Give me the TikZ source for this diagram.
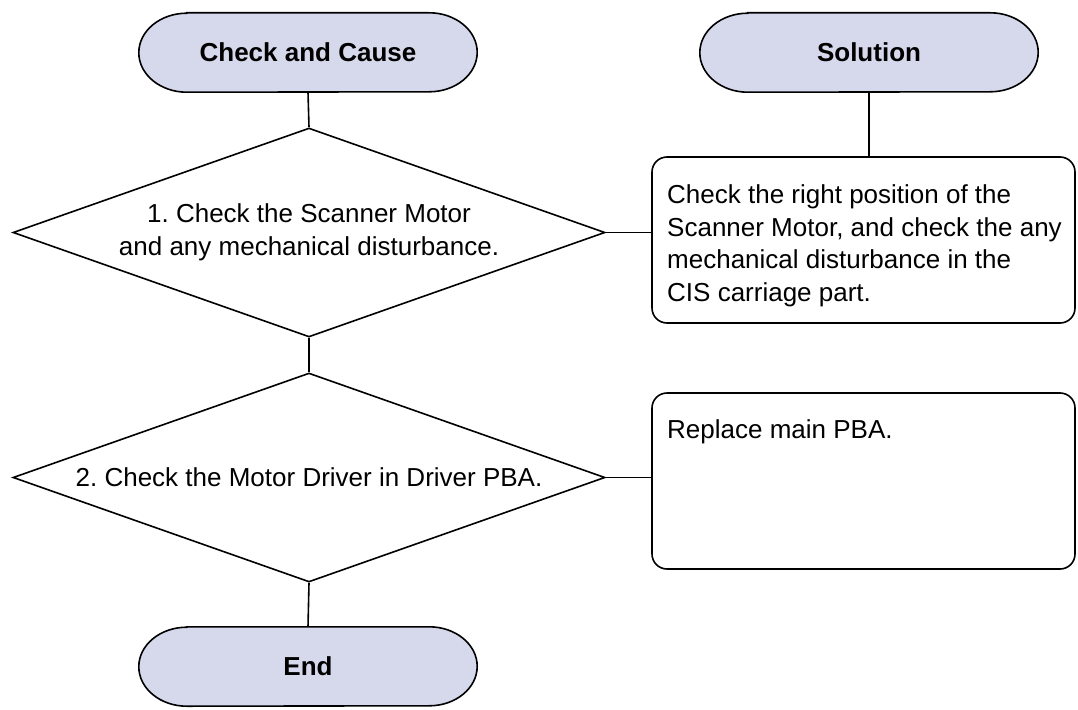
\documentclass[tikz,border=0pt]{standalone}
\usepackage{fontspec}
\setmainfont{Liberation Sans}
\usetikzlibrary{shapes.geometric,backgrounds}
\definecolor{termfill}{RGB}{214,216,236}
\tikzset{
  lin/.style={line width=1.6pt, black},
  txt/.style={font=\fontsize{26}{32.5}\selectfont},
  term/.style={minimum width=338pt, minimum height=79pt, inner sep=0pt, font=\fontsize{26}{32.5}\selectfont\bfseries},
  termshape/.style={lin, fill=termfill},
  dec/.style={draw, lin, shape=diamond, aspect=2.83, minimum width=592pt, minimum height=209pt, inner sep=0pt, align=center, txt},
  solbox/.style={draw, lin, rounded corners=15pt, minimum width=423pt, inner sep=0pt},
  soltext/.style={anchor=west, inner sep=0pt, align=left, txt}
}
\newcommand\drawterm[1]{%
  \draw[termshape] ([xshift=48pt]#1.north west) -- ([xshift=-48pt]#1.north east)
    arc[start angle=90, end angle=-90, x radius=48pt, y radius=39.5pt]
    -- ([xshift=48pt]#1.south west)
    arc[start angle=270, end angle=90, x radius=48pt, y radius=39.5pt] -- cycle;}
\begin{document}
\frenchspacing
\begin{tikzpicture}[x=1pt,y=-1pt]
\useasboundingbox (0,0) rectangle (1078,709);
\node[term] (cc) at (308,52.5) {Check and Cause};
\node[term] (so) at (869,52.5) {Solution};
\node[term] (en) at (308,666.5) {End};
\begin{scope}[on background layer]
  \drawterm{cc}
  \drawterm{so}
  \drawterm{en}
\end{scope}
\node[dec] (d1) at (309,232.5) {1. Check the Scanner Motor\\and any mechanical disturbance.};
\node[dec] (d2) at (309,477.5) {2. Check the Motor Driver in Driver PBA.};
\node[solbox, minimum height=166pt] (b1) at (863.5,240) {};
\node[soltext] (t1) at (667,246) {Check the right position of the\\Scanner Motor, and check the any\\mechanical disturbance in the\\CIS carriage part.};
\node[solbox, minimum height=176pt] (b2) at (863.5,481) {};
\node[soltext] (t2) at (667,432) {Replace main PBA.};
\draw[lin] (cc.south) -- (d1.north);
\draw[lin] (so.south) -- (so.south |- b1.north);
\draw[lin] (d1.east) -- (d1.east -| b1.west);
\draw[lin] (d1.south) -- (d2.north);
\draw[lin] (d2.east) -- (d2.east -| b2.west);
\draw[lin] (d2.south) -- (en.north);
\end{tikzpicture}
\end{document}
